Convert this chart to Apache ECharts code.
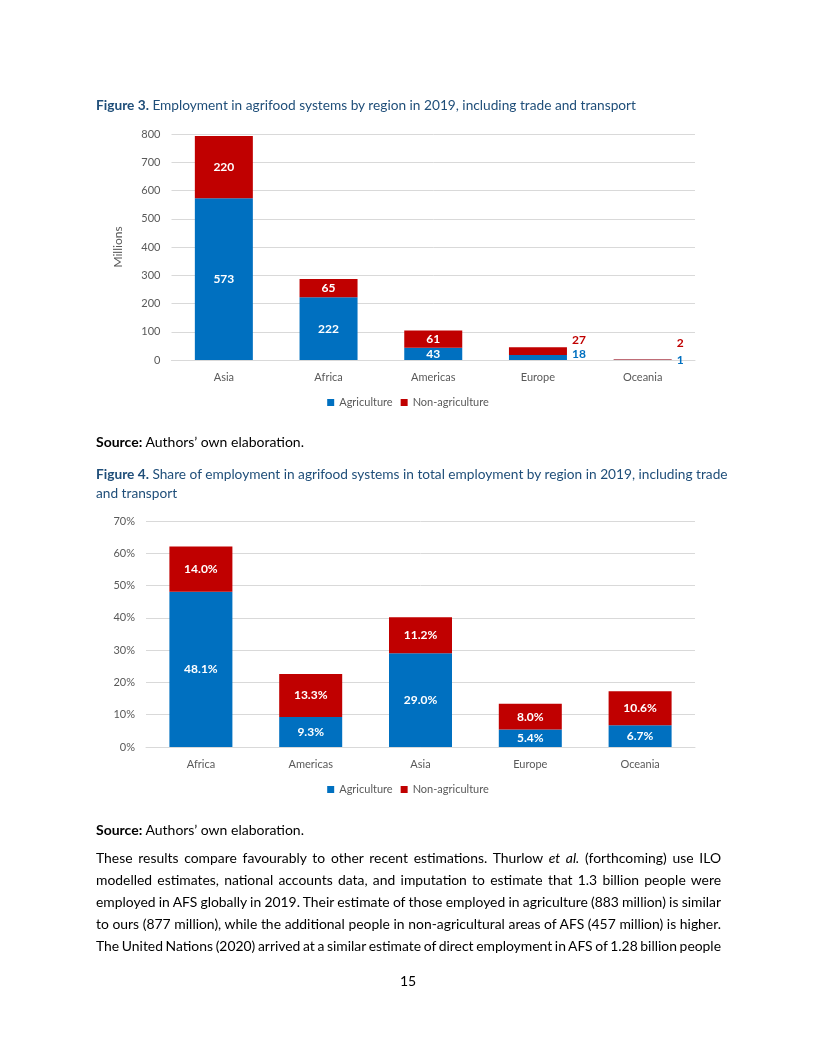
<!DOCTYPE html>
<html><head><meta charset="utf-8">
<script src="https://cdn.jsdelivr.net/npm/echarts@6/dist/echarts.min.js"></script>
<style>
html,body{margin:0;padding:0;background:#fff;}
body{width:816px;height:1056px;position:relative;overflow:hidden;font-family:Lato,"Open Sans",sans-serif;}
#chart{position:absolute;left:0;top:0;width:816px;height:1056px;}
.t{position:absolute;font-size:14px;white-space:nowrap;color:#000;}
.cap{color:#1F4E79;font-size:13.7px;}
.line{position:absolute;left:96px;font-size:13.9px;white-space:nowrap;color:#000;}
</style></head>
<body>
<div id="chart"></div>
<div class="t cap" style="left:96px;top:96px;"><b>Figure 3.</b> Employment in agrifood systems by region in 2019, including trade and transport</div>
<div class="t" style="left:96px;top:433px;"><b>Source:</b> Authors’ own elaboration.</div>
<div class="t cap" style="left:96px;top:465px;"><b>Figure 4.</b> Share of employment in agrifood systems in total employment by region in 2019, including trade</div>
<div class="t cap" style="left:96px;top:484px;">and transport</div>
<div class="t" style="left:96px;top:821px;"><b>Source:</b> Authors’ own elaboration.</div>
<div class="line" style="top:849px;">These results compare favourably to other recent estimations. Thurlow <i>et al.</i> (forthcoming) use ILO</div>
<div class="line" style="top:871px;">modelled estimates, national accounts data, and imputation to estimate that 1.3 billion people were</div>
<div class="line" style="top:893px;">employed in AFS globally in 2019. Their estimate of those employed in agriculture (883 million) is similar</div>
<div class="line" style="top:915px;">to ours (877 million), while the additional people in non-agricultural areas of AFS (457 million) is higher.</div>
<div class="line" style="top:937px;">The United Nations (2020) arrived at a similar estimate of direct employment in AFS of 1.28 billion people</div>
<div class="t" style="left:400px;top:972px;">15</div>
<script>
// justify each body line to the page's text width
(function () {
  const W = 625;
  document.querySelectorAll('.line').forEach(el => {
    const nat = el.getBoundingClientRect().width;
    const spaces = (el.textContent.match(/ /g) || []).length;
    if (spaces) el.style.wordSpacing = ((W - nat) / spaces) + 'px';
  });
})();

// Figure 3 data (millions)
const regions1 = ['Asia','Africa','Americas','Europe','Oceania'];
const agri1 = [573, 222, 43, 18, 1];
const nonAgri1 = [220, 65, 61, 27, 2];
// Figure 4 data (% of total employment)
const regions2 = ['Africa','Americas','Asia','Europe','Oceania'];
const agri2 = [48.1, 9.3, 29.0, 5.4, 6.7];
const nonAgri2 = [14.0, 13.3, 11.2, 8.0, 10.6];

const BLUE = '#0070C0', RED = '#C00000', GRID = '#D9D9D9', AX = '#595959';
const FONT = 'Lato, "Open Sans", sans-serif';

// label placement for small bars in Figure 3 (outside, to the right)
const outsideAgri = {Europe: -3, Oceania: 0};
const outsideNon = {Europe: -11, Oceania: -16};
function items1(vals, color, offs) {
  return vals.map((v, i) => {
    const r = regions1[i];
    if (r in offs) {
      return {value: v, label: {position: 'right', distance: 5, color: color, offset: [0, offs[r]]}};
    }
    return v;
  });
}

const chart = echarts.init(document.getElementById('chart'), null, {renderer: 'canvas'});
const axLabel = {color: AX, fontSize: 11, fontFamily: FONT};
chart.setOption({
  animation: false,
  textStyle: {fontFamily: FONT},
  grid: [
    {left: 171.5, right: 121, top: 134, height: 226},
    {left: 146, right: 121, top: 521, height: 226}
  ],
  legend: [
    {top: 392, left: 'center', itemWidth: 7, itemHeight: 7, itemGap: 8,
     textStyle: {color: AX, fontSize: 11, fontFamily: FONT},
     data: [{name: 'Agriculture', icon: 'rect'}, {name: 'Non-agriculture', icon: 'rect'}]},
    {top: 779, left: 'center', itemWidth: 7, itemHeight: 7, itemGap: 8,
     textStyle: {color: AX, fontSize: 11, fontFamily: FONT},
     data: [{name: 'Agriculture', icon: 'rect'}, {name: 'Non-agriculture', icon: 'rect'}]}
  ],
  xAxis: [
    {type: 'category', gridIndex: 0, data: regions1,
     axisLine: {lineStyle: {color: GRID}}, axisTick: {show: false},
     axisLabel: Object.assign({margin: 12}, axLabel)},
    {type: 'category', gridIndex: 1, data: regions2,
     axisLine: {lineStyle: {color: GRID}}, axisTick: {show: false},
     axisLabel: Object.assign({margin: 12}, axLabel)}
  ],
  yAxis: [
    {type: 'value', gridIndex: 0, min: 0, max: 800, interval: 100,
     name: 'Millions', nameLocation: 'middle', nameGap: 47,
     nameTextStyle: {color: AX, fontSize: 12, fontFamily: FONT},
     axisLine: {show: false}, axisTick: {show: false},
     splitLine: {lineStyle: {color: GRID}},
     axisLabel: Object.assign({margin: 11}, axLabel)},
    {type: 'value', gridIndex: 1, min: 0, max: 70, interval: 10,
     axisLine: {show: false}, axisTick: {show: false},
     splitLine: {lineStyle: {color: GRID}},
     axisLabel: Object.assign({margin: 11, formatter: '{value}%'}, axLabel)}
  ],
  series: [
    {name: 'Agriculture', type: 'bar', stack: 'a', xAxisIndex: 0, yAxisIndex: 0, barWidth: 58,
     itemStyle: {color: BLUE}, data: items1(agri1, BLUE, outsideAgri),
     label: {show: true, position: 'inside', color: '#fff', fontWeight: 'bold', fontSize: 12, fontFamily: FONT}},
    {name: 'Non-agriculture', type: 'bar', stack: 'a', xAxisIndex: 0, yAxisIndex: 0, barWidth: 58,
     itemStyle: {color: RED}, data: items1(nonAgri1, RED, outsideNon),
     label: {show: true, position: 'inside', color: '#fff', fontWeight: 'bold', fontSize: 12, fontFamily: FONT}},
    {name: 'Agriculture', type: 'bar', stack: 'b', xAxisIndex: 1, yAxisIndex: 1, barWidth: 63,
     itemStyle: {color: BLUE}, data: agri2,
     label: {show: true, position: 'inside', color: '#fff', fontWeight: 'bold', fontSize: 12, fontFamily: FONT,
             formatter: p => p.value.toFixed(1) + '%'}},
    {name: 'Non-agriculture', type: 'bar', stack: 'b', xAxisIndex: 1, yAxisIndex: 1, barWidth: 63,
     itemStyle: {color: RED}, data: nonAgri2,
     label: {show: true, position: 'inside', color: '#fff', fontWeight: 'bold', fontSize: 12, fontFamily: FONT,
             formatter: p => p.value.toFixed(1) + '%'}}
  ]
});
</script>
</body></html>
